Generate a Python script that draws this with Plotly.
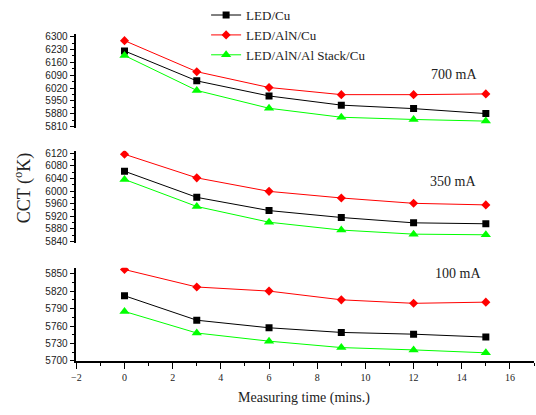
import plotly.graph_objects as go

time_min = [0, 3, 6, 9, 12, 15]
series_names = ["LED/Cu", "LED/AlN/Cu", "LED/AlN/Al Stack/Cu"]

cct_700_cu = [6222, 6059, 5977, 5927, 5908, 5881]
cct_700_aln = [6278, 6109, 6023, 5984, 5984, 5988]
cct_700_stack = [6197, 6007, 5910, 5861, 5849, 5840]

cct_350_cu = [6063, 5980, 5938, 5916, 5899, 5896]
cct_350_aln = [6117, 6042, 5999, 5978, 5961, 5956]
cct_350_stack = [6037, 5951, 5901, 5876, 5863, 5861]

cct_100_cu = [5812, 5770, 5757, 5749, 5746, 5741]
cct_100_aln = [5857, 5827, 5820, 5805, 5799, 5801]
cct_100_stack = [5785, 5748, 5734, 5723, 5719, 5714]

panel_labels = ["700 mA", "350 mA", "100 mA"]

colors = ["#000000", "#ff0000", "#00ff00"]
symbols = ["square", "diamond", "triangle-up"]
msizes = [7, 7, 9]

W, H = 536, 415
def py(p):
    return 1 - p / H

panels = [
    ("y", [cct_700_cu, cct_700_aln, cct_700_stack]),
    ("y2", [cct_350_cu, cct_350_aln, cct_350_stack]),
    ("y3", [cct_100_cu, cct_100_aln, cct_100_stack]),
]

fig = go.Figure()
for pi, (yref, data) in enumerate(panels):
    for si, vals in enumerate(data):
        fig.add_trace(go.Scatter(
            x=time_min, y=vals, yaxis=yref, xaxis="x",
            mode="lines+markers", name=series_names[si],
            line=dict(color=colors[si], width=1),
            marker=dict(symbol=symbols[si], size=msizes[si], color=colors[si]),
            showlegend=(pi == 0), legendgroup=series_names[si],
        ))

serif = "Liberation Serif"
tickfont_y = dict(family="Liberation Sans", size=10, color="#222")

def yaxis(domain, rng, tick0, dtick):
    return dict(
        domain=domain, range=rng, anchor="x",
        showline=True, linecolor="black", linewidth=1.5,
        ticks="outside", ticklen=5, tickwidth=1, tickcolor="black",
        tick0=tick0, dtick=dtick, showgrid=False, zeroline=False,
        tickfont=tickfont_y,
        minor=dict(ticks="outside", ticklen=3, dtick=dtick / 2, tick0=tick0, tickcolor="black"),
    )

fig.update_layout(
    width=W, height=H,
    margin=dict(l=0, r=0, t=0, b=0),
    paper_bgcolor="white", plot_bgcolor="white",
    xaxis=dict(
        domain=[72 / W, 534 / W], range=[-2, 17], anchor="y3",
        showline=True, linecolor="black", linewidth=1.5,
        ticks="outside", ticklen=6, tickcolor="black",
        tick0=0, dtick=2, showgrid=False, zeroline=False,
        tickfont=dict(family=serif, size=10, color="#222"),
        minor=dict(ticks="outside", ticklen=3, dtick=1, tickcolor="black"),
    ),
    yaxis=yaxis([py(127), py(32)], [5805, 6312], 5810, 70),
    yaxis2=yaxis([py(245), py(150.7)], [5834, 6128], 5840, 40),
    yaxis3=yaxis([py(365), py(270)], [5700, 5860], 5700, 30),
    legend=dict(
        x=203 / W, y=py(-3), xanchor="left", yanchor="top",
        bgcolor="rgba(0,0,0,0)", font=dict(family=serif, size=13, color="#222"),
        tracegroupgap=0, itemwidth=30,
    ),
    showlegend=True,
)

annots = [
    (panel_labels[0], 453, 73),
    (panel_labels[1], 452, 182),
    (panel_labels[2], 457, 276),
]
for text, xp, ypx in annots:
    fig.add_annotation(text=text, x=xp / W, y=py(ypx), xref="paper", yref="paper",
                       xanchor="center", yanchor="middle",
                       showarrow=False, font=dict(family=serif, size=14, color="#222"))

fig.add_annotation(text="Measuring time (mins.)", x=302 / W, y=py(403), xref="paper", yref="paper",
                   xanchor="center", yanchor="middle",
                   showarrow=False, font=dict(family=serif, size=14, color="#222"))
fig.add_annotation(text="CCT (<sup>o</sup>K)", x=19 / W, y=py(189), xref="paper", yref="paper",
                   xanchor="center", yanchor="middle",
                   showarrow=False, textangle=-90, font=dict(family=serif, size=18, color="#222"))

fig.write_html("out.html")
